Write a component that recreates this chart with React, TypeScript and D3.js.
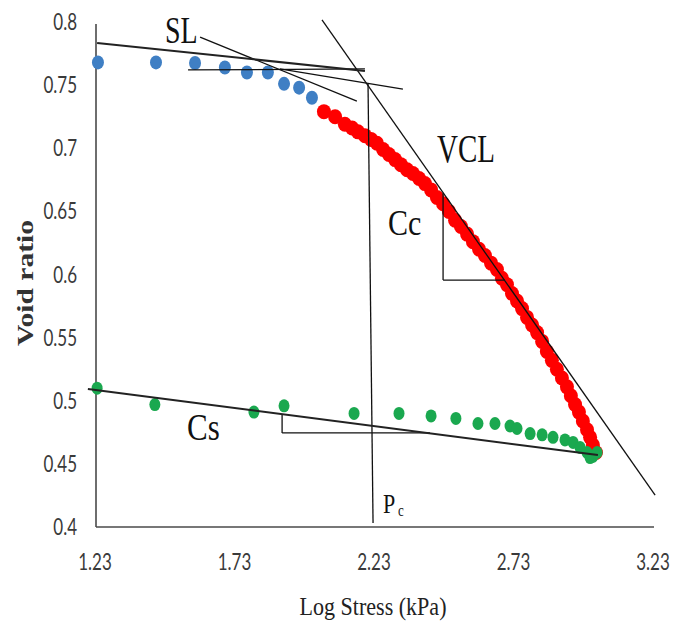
import React from "react";
import * as d3 from "d3";

// loading branch, first points (blue)
const blueX = [1.237, 1.445, 1.585, 1.692, 1.771, 1.846, 1.904, 1.958, 2.004];
const blueY = [0.768, 0.768, 0.7675, 0.764, 0.76, 0.76, 0.751, 0.748, 0.74];

// virgin compression (red)
const redX = [
  2.047, 2.087, 2.122, 2.148, 2.169, 2.194, 2.216, 2.237, 2.259, 2.28,
  2.302, 2.323, 2.345, 2.366, 2.388, 2.409, 2.431, 2.452, 2.474, 2.495,
  2.517, 2.538, 2.56, 2.581, 2.603, 2.624, 2.646, 2.667, 2.685, 2.703,
  2.721, 2.739, 2.757, 2.775, 2.793, 2.811, 2.829, 2.846, 2.864, 2.882,
  2.9, 2.918, 2.932, 2.947, 2.961, 2.975, 2.99, 3.001, 3.011, 3.022,
];
const redY = [
  0.729, 0.725, 0.719, 0.716, 0.713, 0.71, 0.707, 0.704, 0.699, 0.695,
  0.691, 0.687, 0.683, 0.68, 0.676, 0.672, 0.667, 0.661, 0.656, 0.65,
  0.643, 0.638, 0.632, 0.626, 0.62, 0.615, 0.609, 0.604, 0.597, 0.592,
  0.585, 0.579, 0.573, 0.566, 0.56, 0.554, 0.547, 0.539, 0.532, 0.525,
  0.518, 0.511, 0.504, 0.497, 0.491, 0.484, 0.477, 0.471, 0.465, 0.459,
];

// unloading (green)
const greenX = [
  1.234, 1.441, 1.796, 1.904, 2.155, 2.316, 2.431, 2.52, 2.599, 2.66,
  2.714, 2.739, 2.786, 2.829, 2.868, 2.911, 2.94, 2.965, 2.99, 3.011,
  3.026, 3.001,
];
const greenY = [
  0.51, 0.497, 0.491, 0.496, 0.49, 0.49, 0.488, 0.486, 0.482, 0.482,
  0.48, 0.478, 0.474, 0.473, 0.471, 0.469, 0.467, 0.463, 0.459, 0.456,
  0.459, 0.455,
];

const xTicks = [1.23, 1.73, 2.23, 2.73, 3.23];
const yTicks = [0.4, 0.45, 0.5, 0.55, 0.6, 0.65, 0.7, 0.75, 0.8];

// construction lines [x1, y1, x2, y2] in data units
const thinLines = [
  [1.56, 0.762, 2.194, 0.7628], // horizontal at max curvature
  [1.603, 0.788, 2.165, 0.7374], // tangent
  [1.889, 0.7628, 2.33, 0.7469], // bisector
  [2.04, 0.8016, 3.234, 0.4253], // VCL
  [2.205, 0.7509, 2.223, 0.4032], // Pc
  [2.474, 0.6646, 2.474, 0.5956], // Cc triangle
  [2.474, 0.5956, 2.696, 0.5956],
  [1.897, 0.4895, 1.897, 0.4745], // Cs triangle
  [1.897, 0.4745, 2.427, 0.4745],
];
const thickLines = [
  [1.234, 0.7834, 2.194, 0.7612], // SL
  [1.201, 0.5093, 3.029, 0.457], // Cs
];

const W = 673;
const H = 622;

const x = d3.scaleLinear().domain([1.23, 3.23]).range([96, 654]);
const y = d3.scaleLinear().domain([0.4, 0.8]).range([527, 22]);

const Txt = ({ tx, ty, size, sy = 1.35, anchor = "start", family = "Liberation Serif, Times New Roman, serif", len, fill = "#111", weight = "normal", children }: any) => (
  <text
    transform={`translate(${tx},${ty}) scale(1,${sy})`}
    fontSize={size}
    textAnchor={anchor}
    fontFamily={family}
    fontWeight={weight}
    fill={fill}
    textLength={len}
    lengthAdjust={len ? "spacingAndGlyphs" : undefined}
  >
    {children}
  </text>
);

const tickFont = "Lato, Liberation Sans, sans-serif";

export default function App() {
  return (
    <svg width={W} height={H} style={{ position: "absolute", left: 0, top: 0, background: "#fff" }}>
      {/* axes */}
      <line x1={x(1.23)} x2={x(1.23)} y1={y(0.4)} y2={y(0.8) + 2} stroke="#4a4a4a" strokeWidth={1.6} />
      <line x1={x(1.23)} x2={x(3.23)} y1={y(0.4)} y2={y(0.4)} stroke="#4a4a4a" strokeWidth={1.6} />

      {yTicks.map((t) => (
        <Txt key={"y" + t} tx={77} ty={y(t) + 8} size={17} sy={1.3} anchor="end" family={tickFont} fill="#3a3a3a">
          {d3.format("")(t)}
        </Txt>
      ))}
      {xTicks.map((t) => (
        <Txt key={"x" + t} tx={x(t) - 1} ty={570} size={17} sy={1.3} anchor="middle" family={tickFont} fill="#3a3a3a">
          {t.toFixed(2)}
        </Txt>
      ))}

      {/* axis titles */}
      <Txt tx={373} ty={615} size={20} sy={1.3} anchor="middle" len={147} fill="#222">
        Log Stress (kPa)
      </Txt>
      <text
        transform="translate(33,283) rotate(-90)"
        fontSize={24}
        fontWeight="bold"
        fontFamily="Liberation Serif, Times New Roman, serif"
        textAnchor="middle"
        textLength={126}
        lengthAdjust="spacingAndGlyphs"
        fill="#333"
      >
        Void ratio
      </text>

      {/* data */}
      <g fill="#3f7fc4">
        {blueX.map((v, i) => (
          <ellipse key={i} cx={x(v)} cy={y(blueY[i])} rx={6} ry={7} />
        ))}
      </g>
      <g fill="#ff0000">
        {redX.map((v, i) => (
          <ellipse key={i} cx={x(v)} cy={y(redY[i])} rx={7} ry={7.5} />
        ))}
      </g>
      <g fill="#1aa84f">
        {greenX.map((v, i) => (
          <ellipse key={i} cx={x(v)} cy={y(greenY[i])} rx={5.5} ry={6.5} />
        ))}
      </g>

      {/* construction lines */}
      <g stroke="#111" strokeWidth={1.3}>
        {thinLines.map((l, i) => (
          <line key={i} x1={x(l[0])} y1={y(l[1])} x2={x(l[2])} y2={y(l[3])} />
        ))}
      </g>
      <g stroke="#222" strokeWidth={2}>
        {thickLines.map((l, i) => (
          <line key={i} x1={x(l[0])} y1={y(l[1])} x2={x(l[2])} y2={y(l[3])} />
        ))}
      </g>

      {/* labels */}
      <Txt tx={165} ty={43} size={28}>SL</Txt>
      <Txt tx={437} ty={162} size={29}>VCL</Txt>
      <Txt tx={388} ty={235} size={30} sy={1.2}>Cc</Txt>
      <Txt tx={187} ty={440} size={31} sy={1.25}>Cs</Txt>
      <Txt tx={383} ty={513} size={22} sy={1.25}>P</Txt>
      <Txt tx={398} ty={516} size={13} sy={1.25}>c</Txt>
    </svg>
  );
}
